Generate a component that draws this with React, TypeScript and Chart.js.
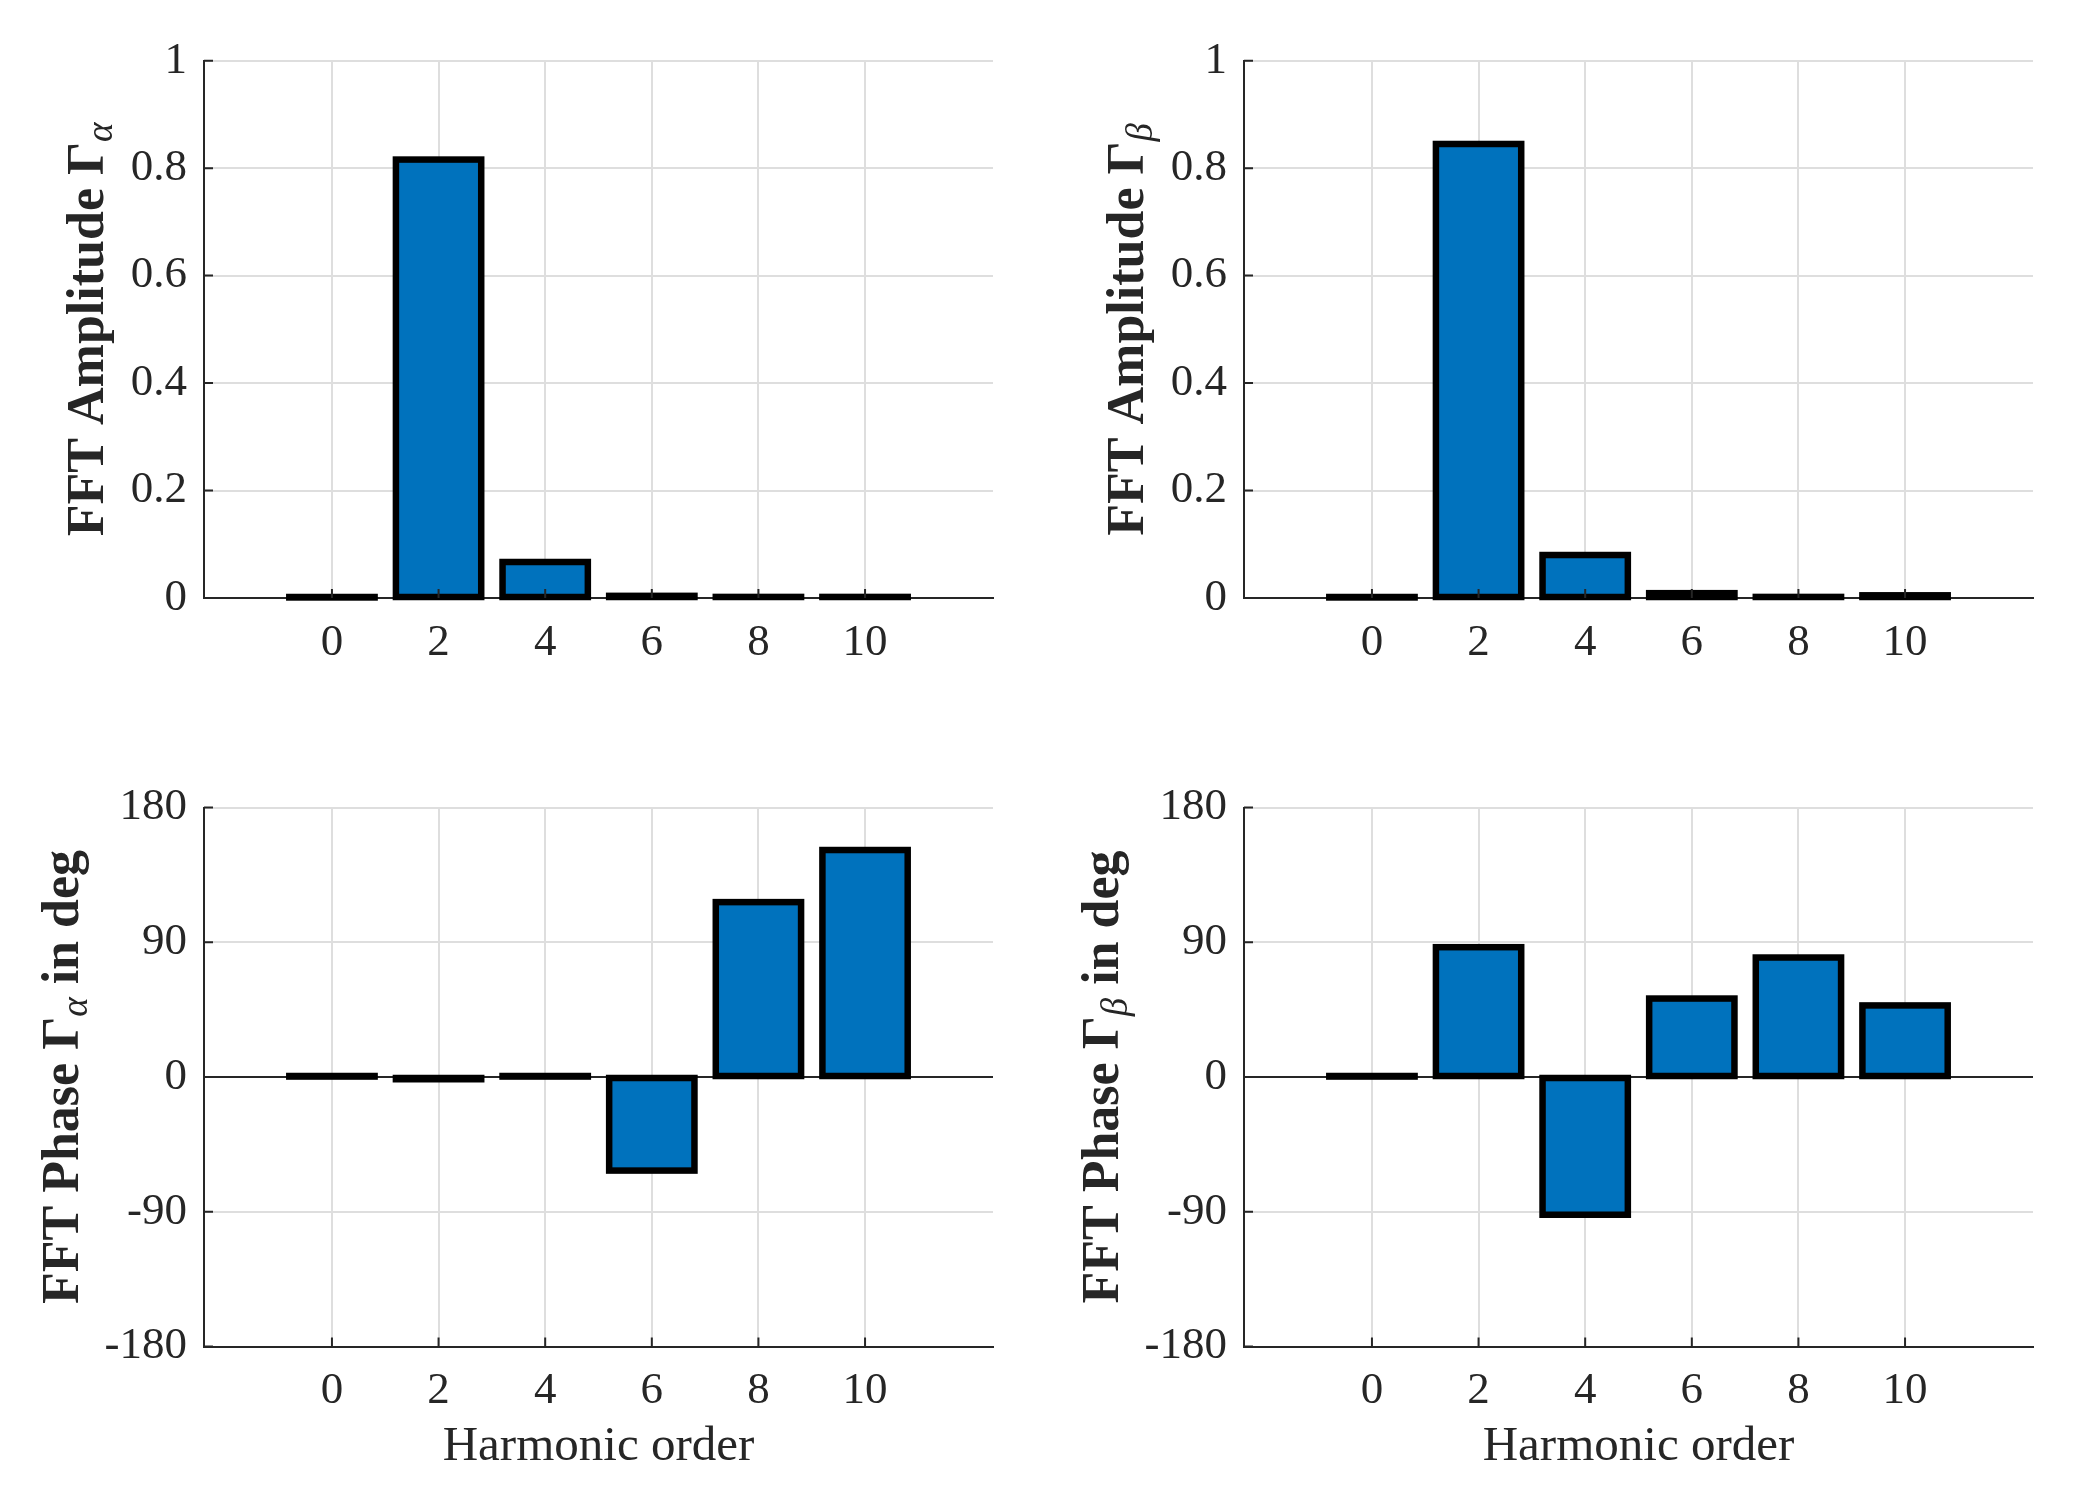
import { useEffect, useRef } from 'react';
import { Chart, registerables } from 'chart.js';

Chart.register(...registerables);

// ---- data ----
const harmonicOrders = [0, 2, 4, 6, 8, 10];
const amplitudeAlpha = [0.001, 0.816, 0.067, 0.004, 0.002, 0.002];
const amplitudeBeta = [0.001, 0.845, 0.08, 0.009, 0.002, 0.005];
const phaseAlpha = [0.3, -1.5, 0.3, -62.5, 116.8, 151.6];
const phaseBeta = [0.3, 86.7, -92, 52.4, 79.8, 47.8];

const xTickValues = [0, 2, 4, 6, 8, 10];
const xTickLabels = ['0', '2', '4', '6', '8', '10'];
const amplitudeTicks = [0, 0.2, 0.4, 0.6, 0.8, 1];
const amplitudeTickLabels = ['0', '0.2', '0.4', '0.6', '0.8', '1'];
const phaseTicks = [-180, -90, 0, 90, 180];
const phaseTickLabels = ['-180', '-90', '0', '90', '180'];
const xAxisTitle = 'Harmonic order';

// ---- layout / style ----
const W = 2089;
const H = 1508;
const FONT = '"Liberation Serif", "Times New Roman", serif';
const TEXT = '#262626';
const BAR_FILL = '#0072BD';

type Panel = {
  values: number[];
  yMin: number;
  yMax: number;
  yTicks: number[];
  yTickLabels: string[];
  labelMain: string;
  labelSub: string;
  labelTail: string;
  area: { left: number; right: number; top: number; bottom: number };
  labelX: number;
  showXTitle: boolean;
  zeroLine: boolean;
};

const TOP = { top: 60.7, bottom: 598 };
const BOTTOM = { top: 807.5, bottom: 1346.5 };
const LEFT = { left: 204, right: 993 };
const RIGHT = { left: 1244, right: 2033 };

const panels: Panel[] = [
  {
    values: amplitudeAlpha, yMin: 0, yMax: 1, yTicks: amplitudeTicks, yTickLabels: amplitudeTickLabels,
    labelMain: 'FFT Amplitude Γ', labelSub: 'α', labelTail: '',
    area: { ...LEFT, ...TOP }, labelX: 103, showXTitle: false, zeroLine: false,
  },
  {
    values: amplitudeBeta, yMin: 0, yMax: 1, yTicks: amplitudeTicks, yTickLabels: amplitudeTickLabels,
    labelMain: 'FFT Amplitude Γ', labelSub: 'β', labelTail: '',
    area: { ...RIGHT, ...TOP }, labelX: 1143, showXTitle: false, zeroLine: false,
  },
  {
    values: phaseAlpha, yMin: -180, yMax: 180, yTicks: phaseTicks, yTickLabels: phaseTickLabels,
    labelMain: 'FFT Phase Γ', labelSub: 'α', labelTail: ' in deg',
    area: { ...LEFT, ...BOTTOM }, labelX: 78, showXTitle: true, zeroLine: true,
  },
  {
    values: phaseBeta, yMin: -180, yMax: 180, yTicks: phaseTicks, yTickLabels: phaseTickLabels,
    labelMain: 'FFT Phase Γ', labelSub: 'β', labelTail: ' in deg',
    area: { ...RIGHT, ...BOTTOM }, labelX: 1118, showXTitle: true, zeroLine: true,
  },
];

function panelPlugin(p: Panel) {
  return {
    id: 'matlabLook',
    beforeDatasetsDraw(chart: any) {
      if (!p.zeroLine) return;
      const { ctx, chartArea } = chart;
      const y0 = chart.scales.y.getPixelForValue(0);
      ctx.save();
      ctx.strokeStyle = TEXT;
      ctx.lineWidth = 2;
      ctx.beginPath();
      ctx.moveTo(chartArea.left, y0);
      ctx.lineTo(chartArea.right, y0);
      ctx.stroke();
      ctx.restore();
    },
    afterDatasetsDraw(chart: any) {
      const { ctx, chartArea } = chart;
      const meta = chart.getDatasetMeta(0);
      ctx.save();
      // bar outlines centred on the bar edges
      ctx.strokeStyle = '#000000';
      ctx.lineWidth = 6.5;
      ctx.lineJoin = 'miter';
      meta.data.forEach((el: any) => {
        const { x, y, base, width } = el.getProps(['x', 'y', 'base', 'width'], true);
        const top = Math.min(y, base);
        const bot = Math.max(y, base);
        ctx.strokeRect(x - width / 2, top, width, bot - top);
      });
      // inward tick marks
      ctx.strokeStyle = TEXT;
      ctx.lineWidth = 2;
      ctx.beginPath();
      xTickValues.forEach((v) => {
        const px = chart.scales.x.getPixelForValue(v);
        ctx.moveTo(px, chartArea.bottom);
        ctx.lineTo(px, chartArea.bottom - 9);
      });
      p.yTicks.forEach((v) => {
        const py = chart.scales.y.getPixelForValue(v);
        ctx.moveTo(chartArea.left, py);
        ctx.lineTo(chartArea.left + 9, py);
      });
      ctx.stroke();
      ctx.restore();
    },
    afterDraw(chart: any) {
      const { ctx, chartArea } = chart;
      ctx.save();
      ctx.fillStyle = TEXT;
      ctx.textBaseline = 'alphabetic';
      // y-axis title with subscript
      const mainFont = `bold 52px ${FONT}`;
      const subFont = `italic 37px ${FONT}`;
      ctx.font = mainFont;
      const w1 = ctx.measureText(p.labelMain).width;
      const w3 = ctx.measureText(p.labelTail).width;
      ctx.font = subFont;
      const w2 = ctx.measureText(p.labelSub).width;
      const total = w1 + w2 + w3;
      const cy = (chartArea.top + chartArea.bottom) / 2;
      ctx.translate(p.labelX, cy);
      ctx.rotate(-Math.PI / 2);
      ctx.textAlign = 'left';
      let sx = -total / 2;
      ctx.font = mainFont;
      ctx.fillText(p.labelMain, sx, 0);
      sx += w1;
      ctx.font = subFont;
      ctx.fillText(p.labelSub, sx, 9);
      sx += w2;
      if (p.labelTail) {
        ctx.font = mainFont;
        ctx.fillText(p.labelTail, sx, 0);
      }
      ctx.setTransform(1, 0, 0, 1, 0, 0);
      ctx.restore();
      if (p.showXTitle) {
        ctx.save();
        ctx.fillStyle = TEXT;
        ctx.font = `49px ${FONT}`;
        ctx.textAlign = 'center';
        ctx.textBaseline = 'alphabetic';
        ctx.fillText(xAxisTitle, (chartArea.left + chartArea.right) / 2, chartArea.bottom + 113.5);
        ctx.restore();
      }
    },
  };
}

function makeChart(canvas: HTMLCanvasElement, p: Panel) {
  const a = p.area;
  return new Chart(canvas, {
    type: 'bar',
    data: {
      datasets: [
        {
          data: harmonicOrders.map((h, i) => ({ x: h, y: p.values[i] })),
          backgroundColor: BAR_FILL,
          borderWidth: 0,
          barPercentage: 0.8,
          categoryPercentage: 1.0,
        },
      ],
    },
    options: {
      responsive: false,
      animation: false,
      devicePixelRatio: 1,
      events: [],
      layout: { padding: { left: 0, top: a.top, right: W - a.right, bottom: 0 } },
      plugins: {
        legend: { display: false },
        tooltip: { enabled: false },
        title: { display: false },
      },
      scales: {
        x: {
          type: 'linear',
          min: -2.4,
          max: 12.4,
          offset: false,
          afterBuildTicks: (s: any) => {
            s.ticks = xTickValues.map((v) => ({ value: v }));
          },
          afterFit: (s: any) => {
            s.height = H - a.bottom;
          },
          grid: { color: '#dedede', lineWidth: 2, drawTicks: false, offset: false },
          border: { display: true, color: TEXT, width: 2 },
          ticks: {
            font: { family: FONT, size: 45 },
            color: TEXT,
            padding: 18,
            maxRotation: 0,
            autoSkip: false,
            callback: (_v: any, i: number) => xTickLabels[i],
          },
        },
        y: {
          type: 'linear',
          min: p.yMin,
          max: p.yMax,
          afterBuildTicks: (s: any) => {
            s.ticks = p.yTicks.map((v) => ({ value: v }));
          },
          afterFit: (s: any) => {
            s.width = a.left;
          },
          grid: { color: '#dedede', lineWidth: 2, drawTicks: false },
          border: { display: true, color: TEXT, width: 2 },
          ticks: {
            font: { family: FONT, size: 45 },
            color: TEXT,
            padding: 17,
            autoSkip: false,
            callback: (_v: any, i: number) => p.yTickLabels[i],
          },
        },
      },
    } as any,
    plugins: [panelPlugin(p)],
  });
}

export default function App() {
  const refs = [
    useRef<HTMLCanvasElement>(null),
    useRef<HTMLCanvasElement>(null),
    useRef<HTMLCanvasElement>(null),
    useRef<HTMLCanvasElement>(null),
  ];

  useEffect(() => {
    document.body.style.margin = '0';
    const charts = panels.map((p, i) => makeChart(refs[i].current as HTMLCanvasElement, p));
    return () => charts.forEach((c) => c.destroy());
  }, []);

  return (
    <div style={{ position: 'relative', width: W, height: H, background: '#ffffff', overflow: 'hidden' }}>
      {refs.map((r, i) => (
        <canvas
          key={i}
          ref={r}
          width={W}
          height={H}
          style={{ position: 'absolute', left: 0, top: 0, width: W, height: H }}
        />
      ))}
    </div>
  );
}
